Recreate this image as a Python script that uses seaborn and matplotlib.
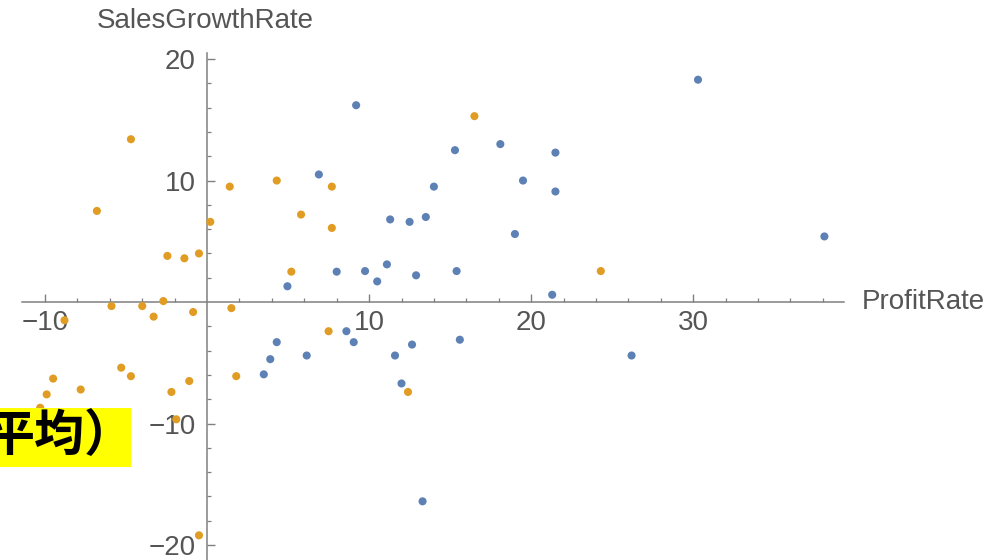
import numpy as np
import pandas as pd
import seaborn as sns
import matplotlib.pyplot as plt
from matplotlib.patches import Rectangle

# Profit rate (x) and sales growth rate (y) for the two groups
group1_profit = [6.9, 4.96, 8.0, 8.6, 4.3, 3.9, 6.15, 3.5, 9.2, 15.3, 18.1, 21.5,
                 19.5, 21.5, 14.0, 11.3, 12.5, 13.5, 19.0, 9.75, 11.1, 10.5, 12.9,
                 15.4, 21.3, 9.05, 11.6, 12.65, 15.6, 26.2, 12.0, 13.3, 30.3, 38.1]
group1_growth = [10.5, 1.3, 2.5, -2.4, -3.3, -4.7, -4.4, -5.95, 16.2, 12.5, 13.0, 12.3,
                 10.0, 9.1, 9.5, 6.8, 6.6, 7.0, 5.6, 2.55, 3.1, 1.7, 2.2,
                 2.55, 0.6, -3.3, -4.4, -3.5, -3.1, -4.4, -6.7, -16.4, 18.3, 5.4]

group2_profit = [-4.7, -6.8, 0.2, 1.4, 4.3, 7.7, 5.8, 7.7, -2.45, -1.4, -0.5, 5.2,
                 -5.9, -4.0, -2.7, -3.3, -0.86, 1.5, -8.8, 7.5, 1.8, -5.3, -4.7,
                 -9.5, -9.9, -7.8, -2.2, -1.1, -10.3, -1.9, -0.5, 16.5, 24.3, 12.4]
group2_growth = [13.4, 7.5, 6.6, 9.5, 10.0, 9.5, 7.2, 6.1, 3.8, 3.6, 4.0, 2.5,
                 -0.33, -0.33, 0.08, -1.2, -0.82, -0.5, -1.5, -2.4, -6.1, -5.4, -6.1,
                 -6.3, -7.6, -7.2, -7.4, -6.5, -8.7, -9.65, -19.2, 15.3, 2.55, -7.4]

x_major = [-10, 10, 20, 30]
y_major = [-20, -10, 10, 20]
x_tick_labels = ["\u221210", "10", "20", "30"]
y_tick_labels = ["\u221220", "\u221210", "10", "20"]

df = pd.DataFrame({
    "ProfitRate": group1_profit + group2_profit,
    "SalesGrowthRate": group1_growth + group2_growth,
    "group": ["g1"] * len(group1_profit) + ["g2"] * len(group2_profit),
})

sns.set_style("white")
plt.rcParams["font.family"] = ["Liberation Sans", "DejaVu Sans"]

W, H = 1001, 560
fig = plt.figure(figsize=(W / 100, H / 100), dpi=100)
ax = fig.add_axes([0, 0, 1, 1])

palette = {"g1": "#5E81B5", "g2": "#E19C24"}
sns.scatterplot(data=df, x="ProfitRate", y="SalesGrowthRate", hue="group",
                palette=palette, s=34, linewidth=0, legend=False, ax=ax, zorder=3)

ax.set_xlim(-12.78, 49.0)
ax.set_ylim(-21.23, 24.86)
ax.set_xlabel("")
ax.set_ylabel("")

axis_col = "#808080"
text_col = "#555555"
for side in ("top", "right"):
    ax.spines[side].set_visible(False)
ax.spines["left"].set_position(("data", 0))
ax.spines["bottom"].set_position(("data", 0))
ax.spines["left"].set_bounds(-21.5, 20.5)
ax.spines["bottom"].set_bounds(-11.4, 39.3)
for side in ("left", "bottom"):
    ax.spines[side].set_color(axis_col)
    ax.spines[side].set_linewidth(1.1)

ax.set_xticks(x_major)
ax.set_xticklabels(x_tick_labels)
ax.set_yticks(y_major)
ax.set_yticklabels(y_tick_labels)
ax.set_xticks([v for v in range(-10, 39, 2) if v not in x_major and v != 0], minor=True)
ax.set_yticks([v for v in range(-20, 21, 2) if v not in y_major and v != 0], minor=True)

ax.tick_params(axis="both", which="both", bottom=True, left=True,
               top=False, right=False)
ax.tick_params(axis="both", which="major", direction="in", length=5.5, width=1,
               color=axis_col, labelsize=20, labelcolor=text_col)
ax.tick_params(axis="both", which="minor", direction="in", length=3, width=0.9,
               color=axis_col)
ax.tick_params(axis="x", which="major", pad=6)
ax.tick_params(axis="y", which="major", pad=8)

ax.text(-6.79, 23.1, "SalesGrowthRate", fontsize=20, color=text_col,
        ha="left", va="center")
ax.text(40.4, 0.0, "ProfitRate", fontsize=20, color=text_col,
        ha="left", va="center")

# Highlighted note at the left edge
fig.patches.append(Rectangle((0, (H - 467) / H), 131 / W, 59 / H,
                             transform=fig.transFigure, facecolor="#FFFF00",
                             edgecolor="none", zorder=5))
fig.text(-15 / W, (H - 437) / H, "平均）", fontsize=36, fontweight="bold",
         color="black", ha="left", va="center",
         family=["Noto Sans CJK JP", "DejaVu Sans"], zorder=6)

fig.savefig("out.png", dpi=100)
